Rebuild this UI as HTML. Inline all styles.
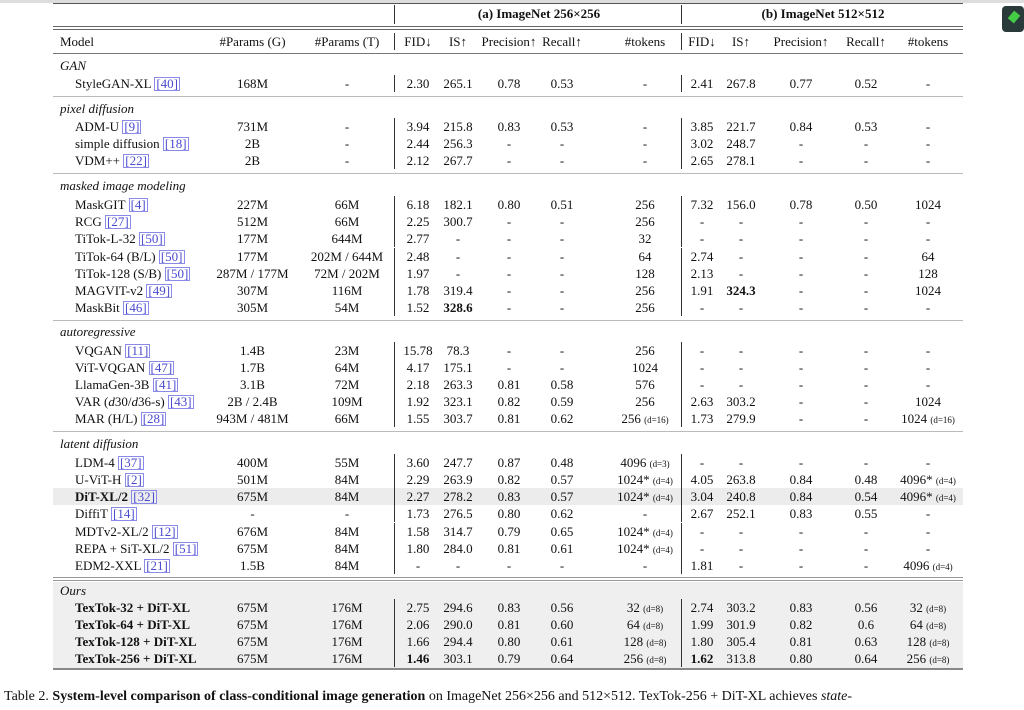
<!DOCTYPE html>
<html><head><meta charset="utf-8">
<style>
body{margin:0;width:1024px;height:710px;background:#fff;position:relative;overflow:hidden;font-family:"Liberation Serif",serif;font-size:13px;color:#111}
.r{position:absolute;left:53px;width:910px;height:17px;line-height:17px}
.r>span{position:absolute;top:0;text-align:center;white-space:nowrap}
.r>span.m{left:22px;text-align:left}
.sec{position:absolute;left:60px;font-style:italic;height:17px;line-height:17px}
.g{left:152px;width:95px}.t{left:247px;width:94px}
.f1{left:344px;width:42px}.i1{left:385px;width:40px}.p1{left:425px;width:62px}.c1{left:487px;width:44px}.k1{left:557px;width:70px}
.f2{left:630px;width:38px}.i2{left:668px;width:40px}.p2{left:712px;width:72px}.c2{left:787px;width:52px}.k2{left:841px;width:68px}
.v1{position:absolute;left:341px;top:0;width:1px;height:17px;background:#333}
.v2{position:absolute;left:628px;top:0;width:1px;height:17px;background:#333}
.ref{color:#4a4ad0;border:1px solid #8a8ae8;padding:0 1px;line-height:12px;display:inline-block}
.d{font-size:9px}
.hl{position:absolute;left:53px;width:910px;background:#999}
.o>span{font-weight:normal}
.o>span.m{font-weight:bold}
b{font-weight:bold}
</style></head><body>
<div style="position:absolute;left:0;top:0;width:1024px;height:3px;background:#ddd"></div>
<div class="hl" style="top:3px;height:1px;background:#555"></div>
<div style="position:absolute;left:1002px;top:6px;width:22px;height:26px;background:#2a3a3a;border-radius:4px"></div>
<div style="position:absolute;left:1010px;top:12px;width:8px;height:10px;background:#4c4;transform:rotate(40deg)"></div>
<div class="r" style="top:5px;font-weight:bold"><span style="left:345px;width:282px">(a) ImageNet 256×256</span><span style="left:630px;width:280px">(b) ImageNet 512×512</span><div class="v1" style="height:19px"></div><div class="v2" style="height:19px"></div></div>
<div class="hl" style="top:26px;height:1px;background:#666"></div>
<div class="hl" style="top:29px;height:1px;background:#666"></div>
<div class="r" style="top:33px"><span class="m" style="left:7px">Model</span><span class="g">#Params (G)</span><span class="t">#Params (T)</span><div class="v1"></div><span class="f1">FID↓</span><span class="i1">IS↑</span><span class="p1">Precision↑</span><span class="c1">Recall↑</span><span class="k1">#tokens</span><div class="v2"></div><span class="f2">FID↓</span><span class="i2">IS↑</span><span class="p2">Precision↑</span><span class="c2">Recall↑</span><span class="k2">#tokens</span></div>
<div class="hl" style="top:53px;height:1px;background:#777"></div>

<div class="sec" style="top:57px">GAN</div>
<div class="r" style="top:75px"><span class="m">StyleGAN-XL <span class="ref">[40]</span></span><span class="g">168M</span><span class="t">-</span><div class="v1"></div><span class="f1">2.30</span><span class="i1">265.1</span><span class="p1">0.78</span><span class="c1">0.53</span><span class="k1">-</span><div class="v2"></div><span class="f2">2.41</span><span class="i2">267.8</span><span class="p2">0.77</span><span class="c2">0.52</span><span class="k2">-</span></div>
<div class="hl" style="top:96px;height:1px;background:#bbb"></div>

<div class="sec" style="top:100px">pixel diffusion</div>
<div class="r" style="top:118px"><span class="m">ADM-U <span class="ref">[9]</span></span><span class="g">731M</span><span class="t">-</span><div class="v1"></div><span class="f1">3.94</span><span class="i1">215.8</span><span class="p1">0.83</span><span class="c1">0.53</span><span class="k1">-</span><div class="v2"></div><span class="f2">3.85</span><span class="i2">221.7</span><span class="p2">0.84</span><span class="c2">0.53</span><span class="k2">-</span></div>
<div class="r" style="top:135px"><span class="m">simple diffusion <span class="ref">[18]</span></span><span class="g">2B</span><span class="t">-</span><div class="v1"></div><span class="f1">2.44</span><span class="i1">256.3</span><span class="p1">-</span><span class="c1">-</span><span class="k1">-</span><div class="v2"></div><span class="f2">3.02</span><span class="i2">248.7</span><span class="p2">-</span><span class="c2">-</span><span class="k2">-</span></div>
<div class="r" style="top:152px"><span class="m">VDM++ <span class="ref">[22]</span></span><span class="g">2B</span><span class="t">-</span><div class="v1"></div><span class="f1">2.12</span><span class="i1">267.7</span><span class="p1">-</span><span class="c1">-</span><span class="k1">-</span><div class="v2"></div><span class="f2">2.65</span><span class="i2">278.1</span><span class="p2">-</span><span class="c2">-</span><span class="k2">-</span></div>
<div class="hl" style="top:173px;height:1px;background:#bbb"></div>

<div class="sec" style="top:177px">masked image modeling</div>
<div class="r" style="top:196px"><span class="m">MaskGIT <span class="ref">[4]</span></span><span class="g">227M</span><span class="t">66M</span><div class="v1"></div><span class="f1">6.18</span><span class="i1">182.1</span><span class="p1">0.80</span><span class="c1">0.51</span><span class="k1">256</span><div class="v2"></div><span class="f2">7.32</span><span class="i2">156.0</span><span class="p2">0.78</span><span class="c2">0.50</span><span class="k2">1024</span></div>
<div class="r" style="top:213px"><span class="m">RCG <span class="ref">[27]</span></span><span class="g">512M</span><span class="t">66M</span><div class="v1"></div><span class="f1">2.25</span><span class="i1">300.7</span><span class="p1">-</span><span class="c1">-</span><span class="k1">256</span><div class="v2"></div><span class="f2">-</span><span class="i2">-</span><span class="p2">-</span><span class="c2">-</span><span class="k2">-</span></div>
<div class="r" style="top:230px"><span class="m">TiTok-L-32 <span class="ref">[50]</span></span><span class="g">177M</span><span class="t">644M</span><div class="v1"></div><span class="f1">2.77</span><span class="i1">-</span><span class="p1">-</span><span class="c1">-</span><span class="k1">32</span><div class="v2"></div><span class="f2">-</span><span class="i2">-</span><span class="p2">-</span><span class="c2">-</span><span class="k2">-</span></div>
<div class="r" style="top:248px"><span class="m">TiTok-64 (B/L) <span class="ref">[50]</span></span><span class="g">177M</span><span class="t">202M / 644M</span><div class="v1"></div><span class="f1">2.48</span><span class="i1">-</span><span class="p1">-</span><span class="c1">-</span><span class="k1">64</span><div class="v2"></div><span class="f2">2.74</span><span class="i2">-</span><span class="p2">-</span><span class="c2">-</span><span class="k2">64</span></div>
<div class="r" style="top:265px"><span class="m">TiTok-128 (S/B) <span class="ref">[50]</span></span><span class="g">287M / 177M</span><span class="t">72M / 202M</span><div class="v1"></div><span class="f1">1.97</span><span class="i1">-</span><span class="p1">-</span><span class="c1">-</span><span class="k1">128</span><div class="v2"></div><span class="f2">2.13</span><span class="i2">-</span><span class="p2">-</span><span class="c2">-</span><span class="k2">128</span></div>
<div class="r" style="top:282px"><span class="m">MAGVIT-v2 <span class="ref">[49]</span></span><span class="g">307M</span><span class="t">116M</span><div class="v1"></div><span class="f1">1.78</span><span class="i1">319.4</span><span class="p1">-</span><span class="c1">-</span><span class="k1">256</span><div class="v2"></div><span class="f2">1.91</span><span class="i2"><b>324.3</b></span><span class="p2">-</span><span class="c2">-</span><span class="k2">1024</span></div>
<div class="r" style="top:299px"><span class="m">MaskBit <span class="ref">[46]</span></span><span class="g">305M</span><span class="t">54M</span><div class="v1"></div><span class="f1">1.52</span><span class="i1"><b>328.6</b></span><span class="p1">-</span><span class="c1">-</span><span class="k1">256</span><div class="v2"></div><span class="f2">-</span><span class="i2">-</span><span class="p2">-</span><span class="c2">-</span><span class="k2">-</span></div>
<div class="hl" style="top:320px;height:1px;background:#bbb"></div>

<div class="sec" style="top:323px">autoregressive</div>
<div class="r" style="top:342px"><span class="m">VQGAN <span class="ref">[11]</span></span><span class="g">1.4B</span><span class="t">23M</span><div class="v1"></div><span class="f1">15.78</span><span class="i1">78.3</span><span class="p1">-</span><span class="c1">-</span><span class="k1">256</span><div class="v2"></div><span class="f2">-</span><span class="i2">-</span><span class="p2">-</span><span class="c2">-</span><span class="k2">-</span></div>
<div class="r" style="top:359px"><span class="m">ViT-VQGAN <span class="ref">[47]</span></span><span class="g">1.7B</span><span class="t">64M</span><div class="v1"></div><span class="f1">4.17</span><span class="i1">175.1</span><span class="p1">-</span><span class="c1">-</span><span class="k1">1024</span><div class="v2"></div><span class="f2">-</span><span class="i2">-</span><span class="p2">-</span><span class="c2">-</span><span class="k2">-</span></div>
<div class="r" style="top:376px"><span class="m">LlamaGen-3B <span class="ref">[41]</span></span><span class="g">3.1B</span><span class="t">72M</span><div class="v1"></div><span class="f1">2.18</span><span class="i1">263.3</span><span class="p1">0.81</span><span class="c1">0.58</span><span class="k1">576</span><div class="v2"></div><span class="f2">-</span><span class="i2">-</span><span class="p2">-</span><span class="c2">-</span><span class="k2">-</span></div>
<div class="r" style="top:393px"><span class="m">VAR (<i>d</i>30/<i>d</i>36-s) <span class="ref">[43]</span></span><span class="g">2B / 2.4B</span><span class="t">109M</span><div class="v1"></div><span class="f1">1.92</span><span class="i1">323.1</span><span class="p1">0.82</span><span class="c1">0.59</span><span class="k1">256</span><div class="v2"></div><span class="f2">2.63</span><span class="i2">303.2</span><span class="p2">-</span><span class="c2">-</span><span class="k2">1024</span></div>
<div class="r" style="top:410px"><span class="m">MAR (H/L) <span class="ref">[28]</span></span><span class="g">943M / 481M</span><span class="t">66M</span><div class="v1"></div><span class="f1">1.55</span><span class="i1">303.7</span><span class="p1">0.81</span><span class="c1">0.62</span><span class="k1">256 <span class="d">(d=16)</span></span><div class="v2"></div><span class="f2">1.73</span><span class="i2">279.9</span><span class="p2">-</span><span class="c2">-</span><span class="k2">1024 <span class="d">(d=16)</span></span></div>
<div class="hl" style="top:431px;height:1px;background:#bbb"></div>

<div class="sec" style="top:435px">latent diffusion</div>
<div class="r" style="top:454px"><span class="m">LDM-4 <span class="ref">[37]</span></span><span class="g">400M</span><span class="t">55M</span><div class="v1"></div><span class="f1">3.60</span><span class="i1">247.7</span><span class="p1">0.87</span><span class="c1">0.48</span><span class="k1">4096 <span class="d">(d=3)</span></span><div class="v2"></div><span class="f2">-</span><span class="i2">-</span><span class="p2">-</span><span class="c2">-</span><span class="k2">-</span></div>
<div class="r" style="top:471px"><span class="m">U-ViT-H <span class="ref">[2]</span></span><span class="g">501M</span><span class="t">84M</span><div class="v1"></div><span class="f1">2.29</span><span class="i1">263.9</span><span class="p1">0.82</span><span class="c1">0.57</span><span class="k1">1024* <span class="d">(d=4)</span></span><div class="v2"></div><span class="f2">4.05</span><span class="i2">263.8</span><span class="p2">0.84</span><span class="c2">0.48</span><span class="k2">4096* <span class="d">(d=4)</span></span></div>
<div class="r" style="top:488px;background:#ececec"><span class="m"><b>DiT-XL/2</b> <span class="ref">[32]</span></span><span class="g">675M</span><span class="t">84M</span><div class="v1"></div><span class="f1">2.27</span><span class="i1">278.2</span><span class="p1">0.83</span><span class="c1">0.57</span><span class="k1">1024* <span class="d">(d=4)</span></span><div class="v2"></div><span class="f2">3.04</span><span class="i2">240.8</span><span class="p2">0.84</span><span class="c2">0.54</span><span class="k2">4096* <span class="d">(d=4)</span></span></div>
<div class="r" style="top:505px"><span class="m">DiffiT <span class="ref">[14]</span></span><span class="g">-</span><span class="t">-</span><div class="v1"></div><span class="f1">1.73</span><span class="i1">276.5</span><span class="p1">0.80</span><span class="c1">0.62</span><span class="k1">-</span><div class="v2"></div><span class="f2">2.67</span><span class="i2">252.1</span><span class="p2">0.83</span><span class="c2">0.55</span><span class="k2">-</span></div>
<div class="r" style="top:523px"><span class="m">MDTv2-XL/2 <span class="ref">[12]</span></span><span class="g">676M</span><span class="t">84M</span><div class="v1"></div><span class="f1">1.58</span><span class="i1">314.7</span><span class="p1">0.79</span><span class="c1">0.65</span><span class="k1">1024* <span class="d">(d=4)</span></span><div class="v2"></div><span class="f2">-</span><span class="i2">-</span><span class="p2">-</span><span class="c2">-</span><span class="k2">-</span></div>
<div class="r" style="top:540px"><span class="m">REPA + SiT-XL/2 <span class="ref">[51]</span></span><span class="g">675M</span><span class="t">84M</span><div class="v1"></div><span class="f1">1.80</span><span class="i1">284.0</span><span class="p1">0.81</span><span class="c1">0.61</span><span class="k1">1024* <span class="d">(d=4)</span></span><div class="v2"></div><span class="f2">-</span><span class="i2">-</span><span class="p2">-</span><span class="c2">-</span><span class="k2">-</span></div>
<div class="r" style="top:557px"><span class="m">EDM2-XXL <span class="ref">[21]</span></span><span class="g">1.5B</span><span class="t">84M</span><div class="v1"></div><span class="f1">-</span><span class="i1">-</span><span class="p1">-</span><span class="c1">-</span><span class="k1">-</span><div class="v2"></div><span class="f2">1.81</span><span class="i2">-</span><span class="p2">-</span><span class="c2">-</span><span class="k2">4096 <span class="d">(d=4)</span></span></div>
<div class="hl" style="top:577px;height:1px;background:#999"></div>
<div class="hl" style="top:580px;height:1px;background:#999"></div>

<div style="position:absolute;left:53px;top:582px;width:910px;height:86px;background:#efefef"></div>
<div class="sec" style="top:582px">Ours</div>
<div class="r o" style="top:599px"><span class="m">TexTok-32 + DiT-XL</span><span class="g">675M</span><span class="t">176M</span><div class="v1"></div><span class="f1">2.75</span><span class="i1">294.6</span><span class="p1">0.83</span><span class="c1">0.56</span><span class="k1">32 <span class="d">(d=8)</span></span><div class="v2"></div><span class="f2">2.74</span><span class="i2">303.2</span><span class="p2">0.83</span><span class="c2">0.56</span><span class="k2">32 <span class="d">(d=8)</span></span></div>
<div class="r o" style="top:616px"><span class="m">TexTok-64 + DiT-XL</span><span class="g">675M</span><span class="t">176M</span><div class="v1"></div><span class="f1">2.06</span><span class="i1">290.0</span><span class="p1">0.81</span><span class="c1">0.60</span><span class="k1">64 <span class="d">(d=8)</span></span><div class="v2"></div><span class="f2">1.99</span><span class="i2">301.9</span><span class="p2">0.82</span><span class="c2">0.6</span><span class="k2">64 <span class="d">(d=8)</span></span></div>
<div class="r o" style="top:633px"><span class="m">TexTok-128 + DiT-XL</span><span class="g">675M</span><span class="t">176M</span><div class="v1"></div><span class="f1">1.66</span><span class="i1">294.4</span><span class="p1">0.80</span><span class="c1">0.61</span><span class="k1">128 <span class="d">(d=8)</span></span><div class="v2"></div><span class="f2">1.80</span><span class="i2">305.4</span><span class="p2">0.81</span><span class="c2">0.63</span><span class="k2">128 <span class="d">(d=8)</span></span></div>
<div class="r o" style="top:650px"><span class="m">TexTok-256 + DiT-XL</span><span class="g">675M</span><span class="t">176M</span><div class="v1"></div><span class="f1"><b>1.46</b></span><span class="i1">303.1</span><span class="p1">0.79</span><span class="c1">0.64</span><span class="k1">256 <span class="d">(d=8)</span></span><div class="v2"></div><span class="f2"><b>1.62</b></span><span class="i2">313.8</span><span class="p2">0.80</span><span class="c2">0.64</span><span class="k2">256 <span class="d">(d=8)</span></span></div>
<div class="hl" style="top:668px;height:2px;background:#888"></div>

<div style="position:absolute;left:4px;top:689px;font-size:14px;white-space:nowrap">Table 2. <b>System-level comparison of class-conditional image generation</b> on ImageNet 256×256 and 512×512. TexTok-256 + DiT-XL achieves <i>state-</i></div>
</body></html>
